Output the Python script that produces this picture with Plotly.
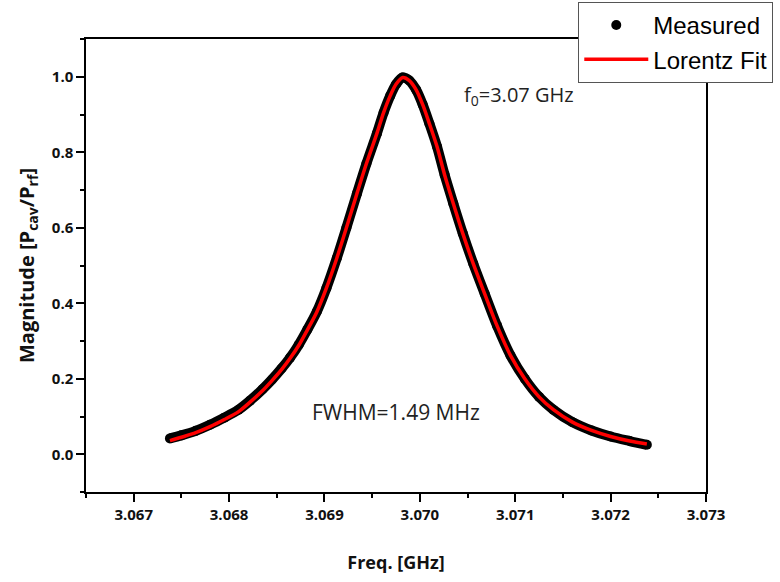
import plotly.graph_objects as go

# Measured resonance
freq_meas = [3.06738, 3.06750, 3.06765, 3.06780, 3.06795, 3.06810, 3.06822, 3.06835,
             3.06845, 3.06855, 3.06864, 3.06873, 3.06882, 3.06892, 3.06902, 3.06913,
             3.06923, 3.06934, 3.06944, 3.06955, 3.06962, 3.06969, 3.06975, 3.06982,
             3.06989, 3.06996, 3.07003, 3.07010, 3.07018, 3.07026, 3.07035, 3.07045,
             3.07056, 3.07068, 3.07081, 3.07095, 3.07110, 3.07125, 3.07140, 3.07160,
             3.07180, 3.07200, 3.07220, 3.07238]
mag_meas = [0.042, 0.050, 0.062, 0.078, 0.097, 0.118, 0.142, 0.172,
            0.198, 0.227, 0.256, 0.290, 0.330, 0.378, 0.440, 0.520,
            0.600, 0.690, 0.770, 0.850, 0.905, 0.950, 0.980, 0.998,
            0.990, 0.966, 0.926, 0.876, 0.815, 0.740, 0.665, 0.585,
            0.505, 0.425, 0.340, 0.262, 0.200, 0.152, 0.118, 0.085,
            0.063, 0.047, 0.035, 0.025]

# Lorentz fit
freq_fit = freq_meas
mag_fit = [0.036, 0.045, 0.057, 0.073, 0.092, 0.113, 0.138, 0.168,
           0.195, 0.224, 0.254, 0.288, 0.329, 0.377, 0.440, 0.520,
           0.600, 0.690, 0.770, 0.850, 0.905, 0.950, 0.980, 0.998,
           0.990, 0.966, 0.926, 0.876, 0.815, 0.740, 0.665, 0.585,
           0.505, 0.425, 0.340, 0.262, 0.200, 0.152, 0.118, 0.085,
           0.063, 0.047, 0.035, 0.027]

x_ticks = [3.067, 3.068, 3.069, 3.070, 3.071, 3.072, 3.073]
y_ticks = [0.0, 0.2, 0.4, 0.6, 0.8, 1.0]

fig = go.Figure()
fig.add_trace(go.Scatter(x=freq_meas, y=mag_meas, mode="lines",
                         line=dict(color="black", width=10, shape="spline", smoothing=0.8),
                         showlegend=False, hoverinfo="skip"))
fig.add_trace(go.Scatter(x=freq_meas, y=mag_meas, mode="markers", name="Measured",
                         marker=dict(color="black", size=10)))
fig.add_trace(go.Scatter(x=freq_fit, y=mag_fit, mode="lines", name="Lorentz Fit",
                         line=dict(color="#ff0000", width=3.5, shape="spline", smoothing=0.8)))

axis_common = dict(showline=True, linecolor="black", linewidth=1.5, mirror=True,
                   ticks="outside", ticklen=8, tickwidth=1.5, tickcolor="black",
                   showgrid=False, zeroline=False,
                   tickfont=dict(family="Open Sans", size=15, color="#111", weight="bold"))

fig.update_xaxes(range=[3.0665, 3.073], tickvals=x_ticks, tickformat=".3f",
                 minor=dict(dtick=0.0005, tick0=3.0665, ticks="outside", ticklen=4,
                            tickwidth=1.5, tickcolor="black"),
                 title=dict(text="<b>Freq. [GHz]</b>", standoff=34,
                            font=dict(family="Open Sans", size=18, color="#111")),
                 **axis_common)
fig.update_yaxes(range=[-0.1, 1.1], tickvals=y_ticks, tickformat=".1f",
                 minor=dict(dtick=0.1, tick0=-0.1, ticks="outside", ticklen=4,
                            tickwidth=1.5, tickcolor="black"),
                 title=dict(text="<b>Magnitude [P<sub>cav</sub>/P<sub>rf</sub>]</b>", standoff=12,
                            font=dict(family="Open Sans", size=20, color="#111")),
                 **axis_common)

fig.update_layout(
    width=780, height=582,
    margin=dict(l=86, r=74, t=39, b=90, autoexpand=False),
    plot_bgcolor="white", paper_bgcolor="white",
    legend=dict(x=0.794, y=1.082, xanchor="left", yanchor="top",
                bgcolor="white", bordercolor="#555", borderwidth=1,
                font=dict(family="Arial", size=24, color="black"),
                itemwidth=64, tracegroupgap=0),
    annotations=[
        dict(x=3.07044, y=0.95, xref="x", yref="y", xanchor="left", yanchor="middle",
             text="f<sub>0</sub>=3.07 GHz", showarrow=False,
             font=dict(family="Open Sans", size=20, color="#222")),
        dict(x=3.06885, y=0.111, xref="x", yref="y", xanchor="left", yanchor="middle",
             text="FWHM=1.49 MHz", showarrow=False,
             font=dict(family="Open Sans", size=21, color="#222")),
    ],
)

fig.write_html("out.html")
